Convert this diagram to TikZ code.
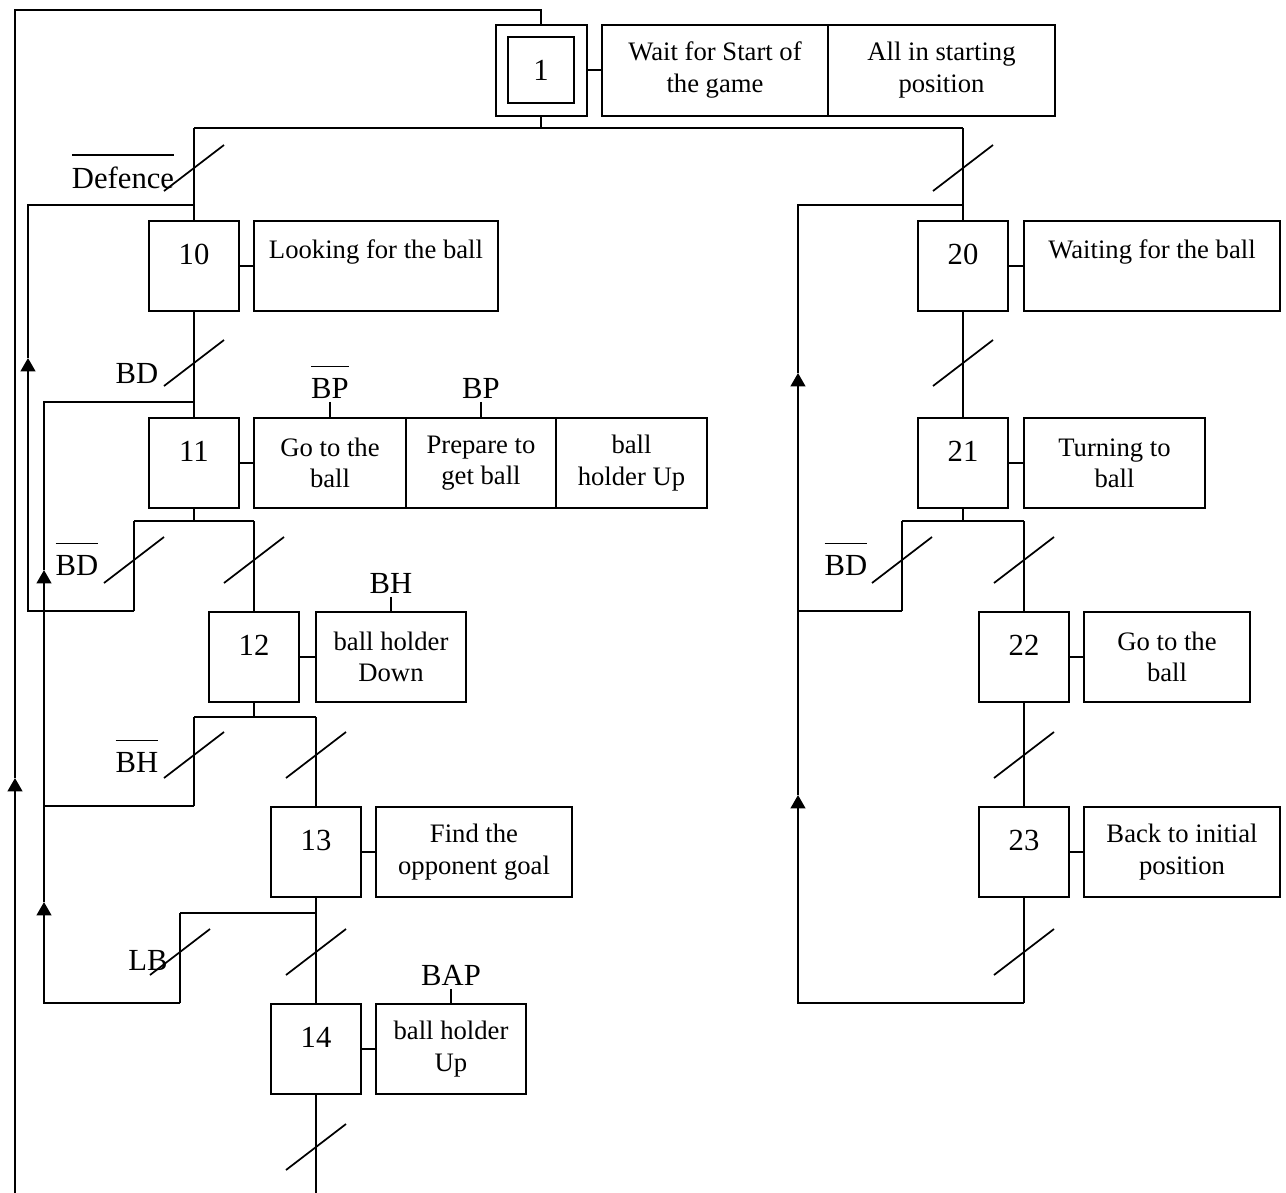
\documentclass[tikz,border=0pt]{standalone}
\usepackage{fontspec}
\setmainfont{Liberation Serif}
\usetikzlibrary{arrows.meta}
\newcommand{\nbar}[1]{\leavevmode\vbox{\hrule height 1.2pt\kern 8pt\hbox{#1}}}
\tikzset{every picture/.style={line width=1.5pt}}
\tikzset{
  stepbox/.style={draw, minimum width=67.5pt, minimum height=67.5pt, inner sep=0pt, font=\fontsize{23}{27}\selectfont, text height=15pt, text depth=17.4pt},
  initbox/.style={draw, minimum width=49.5pt, minimum height=49.5pt, inner sep=0pt, font=\fontsize{23}{27}\selectfont},
  actbox/.style={draw, minimum height=67.5pt, inner sep=0pt, align=center, font=\fontsize{20}{23.5}\selectfont},
  actone/.style={actbox, text height=14pt, text depth=26pt},
  cond/.style={inner sep=2pt, font=\fontsize{23}{27}\selectfont},
  trans/.style={line width=1.3pt},
  arr/.style={-{Triangle[length=10pt,width=11pt]}},
}
\begin{document}
\begin{tikzpicture}[x=0.75pt,y=0.75pt,yscale=-1,xscale=1]
\useasboundingbox (0,0) rectangle (1286,1193);

%Initial step
\node[initbox] (s1) at (541,70) {1};
\node[draw, minimum width=68.25pt, minimum height=68.25pt] (s1o) at (541,70) {};
\node[actbox, minimum width=170pt, minimum height=68.25pt] (a1a) at (715,70) {Wait for Start of\\the game};
\node[actbox, minimum width=170pt, minimum height=68.25pt] (a1b) at (941.5,70) {All in starting\\position};
\draw (s1o.east) -- (a1a.west);

%Steps of the left sequence
\node[stepbox] (s10) at (194,266) {10};
\node[actone, minimum width=183pt] (a10) at (376,266) {Looking for the ball};
\draw (s10.east) -- (a10.west);
\node[stepbox] (s11) at (194,463) {11};
\node[actbox, minimum width=114pt] (a11a) at (330,463) {Go to the\\ball};
\node[actbox, minimum width=112.5pt] (a11b) at (481,463) {Prepare to\\get ball};
\node[actbox, minimum width=113pt] (a11c) at (631.5,463) {ball\\holder Up};
\draw (s11.east) -- (a11a.west);
\node[stepbox] (s12) at (254,657) {12};
\node[actbox, minimum width=112.5pt] (a12) at (391,657) {ball holder\\Down};
\draw (s12.east) -- (a12.west);
\node[stepbox] (s13) at (316,852) {13};
\node[actbox, minimum width=147pt] (a13) at (474,852) {Find the\\opponent goal};
\draw (s13.east) -- (a13.west);
\node[stepbox] (s14) at (316,1049) {14};
\node[actbox, minimum width=112.5pt] (a14) at (451,1049) {ball holder\\Up};
\draw (s14.east) -- (a14.west);

%Steps of the right sequence
\node[stepbox] (s20) at (963,266) {20};
\node[actone, minimum width=192pt] (a20) at (1152,266) {Waiting for the ball};
\draw (s20.east) -- (a20.west);
\node[stepbox] (s21) at (963,463) {21};
\node[actbox, minimum width=135.75pt] (a21) at (1114.5,463) {Turning to\\ball};
\draw (s21.east) -- (a21.west);
\node[stepbox] (s22) at (1024,657) {22};
\node[actbox, minimum width=124.5pt] (a22) at (1167,657) {Go to the\\ball};
\draw (s22.east) -- (a22.west);
\node[stepbox] (s23) at (1024,852) {23};
\node[actbox, minimum width=147pt] (a23) at (1182,852) {Back to initial\\position};
\draw (s23.east) -- (a23.west);

%Junction points
\coordinate (j1) at (541,128);
\coordinate (j1l) at (194,128);
\coordinate (j1r) at (963,128);
\coordinate (m10) at (194,205);
\coordinate (m20) at (963,205);
\coordinate (m11) at (194,402);
\coordinate (j11) at (194,521);
\coordinate (j11l) at (134,521);
\coordinate (j11r) at (254,521);
\coordinate (e11) at (134,611);
\coordinate (j12) at (254,717);
\coordinate (j12l) at (194,717);
\coordinate (j12r) at (316,717);
\coordinate (e12) at (194,806);
\coordinate (j13) at (316,913);
\coordinate (j13l) at (180,913);
\coordinate (e13) at (180,1003);
\coordinate (end14) at (316,1193);
\coordinate (j21) at (963,521);
\coordinate (j21l) at (902,521);
\coordinate (j21r) at (1024,521);
\coordinate (e21) at (902,611);
\coordinate (e23) at (1024,1003);
\coordinate (top) at (541,10);
\coordinate (lft) at (15,10);
\coordinate (lbot) at (15,1193);

%Straight Lines
\draw (s1o.south) -- (j1);
\draw (j1l) -- (j1r);
\draw (j1l) -- (s10.north);
\draw (j1r) -- (s20.north);
\draw (s10.south) -- (s11.north);
\draw (s11.south) -- (j11);
\draw (j11l) -- (j11r);
\draw (j11r) -- (s12.north);
\draw (j11l) -- (e11);
\draw (s12.south) -- (j12);
\draw (j12l) -- (j12r);
\draw (j12r) -- (s13.north);
\draw (j12l) -- (e12);
\draw (s13.south) -- (s14.north);
\draw (j13l) -- (j13);
\draw (j13l) -- (e13);
\draw (s14.south) -- (end14);
\draw (s20.south) -- (s21.north);
\draw (s21.south) -- (j21);
\draw (j21l) -- (j21r);
\draw (j21r) -- (s22.north);
\draw (j21l) -- (e21);
\draw (s22.south) -- (s23.north);
\draw (s23.south) -- (e23);

%Return loops
\draw[arr] (lbot) -- (15,778);
\draw (15,778) -- (lft) -- (top) -- (s1o.north);
\draw[arr] (e11) -| (28,358);
\draw (28,358) |- (m10);
\draw[arr] (e12) -| (44,570);
\draw (44,570) |- (m11);
\draw[arr] (e13) -| (44,902);
\draw (44,902) -- (44,806);
\draw[arr] (e23) -| (798,795);
\draw[arr] (798,795) -- (798,373);
\draw (798,373) |- (m20);
\draw (e21) -- (798,611);

%Transitions
\draw[trans] (194,168) ++(-30,23) -- ++(60,-46);
\draw[trans] (194,363) ++(-30,23) -- ++(60,-46);
\draw[trans] (134,560) ++(-30,23) -- ++(60,-46);
\draw[trans] (254,560) ++(-30,23) -- ++(60,-46);
\draw[trans] (194,755) ++(-30,23) -- ++(60,-46);
\draw[trans] (316,755) ++(-30,23) -- ++(60,-46);
\draw[trans] (180,952) ++(-30,23) -- ++(60,-46);
\draw[trans] (316,952) ++(-30,23) -- ++(60,-46);
\draw[trans] (316,1147) ++(-30,23) -- ++(60,-46);
\draw[trans] (963,168) ++(-30,23) -- ++(60,-46);
\draw[trans] (963,363) ++(-30,23) -- ++(60,-46);
\draw[trans] (902,560) ++(-30,23) -- ++(60,-46);
\draw[trans] (1024,560) ++(-30,23) -- ++(60,-46);
\draw[trans] (1024,755) ++(-30,23) -- ++(60,-46);
\draw[trans] (1024,952) ++(-30,23) -- ++(60,-46);

%Conditions
\node[cond, anchor=base] (cdef) at (123,188) {\nbar{Defence}};
\node[cond, anchor=base] (cbd1) at (137,383) {BD};
\node[cond, anchor=base] (cbp1) at (330,398) {\nbar{BP}};
\node[cond, anchor=base] (cbp2) at (481,398) {BP};
\node[cond, anchor=base] (cbd2) at (77,575) {\nbar{BD}};
\node[cond, anchor=base] (cbh1) at (391,593) {BH};
\node[cond, anchor=base] (cbh2) at (137,772) {\nbar{BH}};
\node[cond, anchor=base] (clb) at (148,970) {LB};
\node[cond, anchor=base] (cbap) at (451,985) {BAP};
\node[cond, anchor=base] (cbd3) at (846,575) {\nbar{BD}};
\draw (cbp1.south) -- (a11a.north);
\draw (cbp2.south) -- (a11b.north);
\draw (cbh1.south) -- (a12.north);
\draw (cbap.south) -- (a14.north);

\end{tikzpicture}
\end{document}
